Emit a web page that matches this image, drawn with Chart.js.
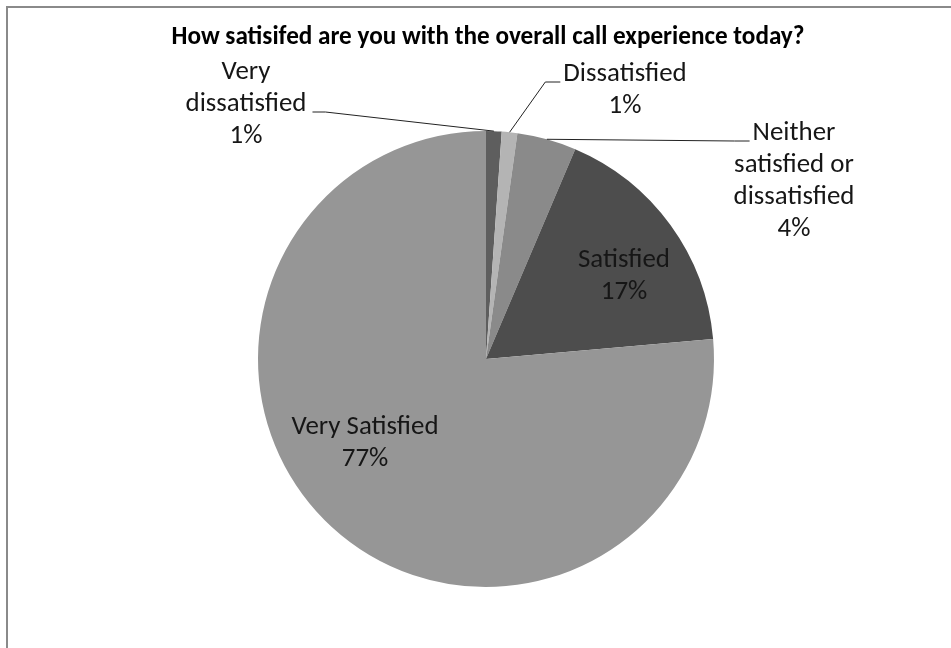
<!DOCTYPE html>
<html>
<head>
<meta charset="utf-8">
<script src="https://cdn.jsdelivr.net/npm/chart.js@4/dist/chart.umd.min.js"></script>
<style>
  html, body { margin: 0; padding: 0; background: #fff; }
  #wrap { position: absolute; left: 0; top: 0; width: 951px; height: 648px; }
</style>
</head>
<body>
<div id="wrap"><canvas id="satisfactionChart"></canvas></div>
<script>
// Chart data
const chartTitle = 'How satisifed are you with the overall call experience today?';
const categories = ['Very dissatisfied', 'Dissatisfied', 'Neither satisfied or dissatisfied', 'Satisfied', 'Very Satisfied'];
const shareValues = [1.1, 1.1, 4.2, 17.2, 76.4];
const shareLabels = ['1%', '1%', '4%', '17%', '77%'];
const labelLines = [
    ['Very', 'dissatisfied'],
    ['Dissatisfied'],
    ['Neither', 'satisfied or', 'dissatisfied'],
    ['Satisfied'],
    ['Very Satisfied']
];
const sliceColors = ['#5e5e5e', '#b4b4b4', '#8a8a8a', '#4d4d4d', '#969696'];

// Where each label block sits, relative to the pie centre (px at radius 228)
const labelPlacement = [
    { dx: -240, dy: -255, leader: 'right' },
    { dx: 139, dy: -269, leader: 'left' },
    { dx: 308, dy: -178, leader: 'left' },
    { dx: 138, dy: -83 },
    { dx: -121, dy: 84 }
];

const FONT = 'Carlito, Calibri, Lato, sans-serif';
const LINE_H = 32;

function fitSize(ctx, text, weight, target) {
    ctx.font = weight + ' 20px ' + FONT;
    return 20 * target / ctx.measureText(text).width;
}

const labelPlugin = {
    id: 'excelLabels',
    beforeDraw(chart) {
        const ctx = chart.ctx;
        ctx.save();
        ctx.strokeStyle = '#8a8a8a';
        ctx.lineWidth = 2;
        ctx.strokeRect(7, 7, chart.width + 20, chart.height + 20);
        ctx.restore();
    },
    afterDraw(chart) {
        const ctx = chart.ctx;
        const arcs = chart.getDatasetMeta(0).data;
        const cx = arcs[0].x, cy = arcs[0].y, R = arcs[0].outerRadius;
        const k = R / 228;

        ctx.save();
        // title
        const tSize = fitSize(ctx, chartTitle, 'bold', 633);
        ctx.font = 'bold ' + tSize.toFixed(1) + 'px ' + FONT;
        ctx.fillStyle = '#000';
        ctx.textAlign = 'center';
        ctx.textBaseline = 'middle';
        ctx.fillText(chartTitle, 488, 38);

        const bSize = fitSize(ctx, 'Very Satisfied', 'normal', 147);
        ctx.font = bSize.toFixed(1) + 'px ' + FONT;
        ctx.fillStyle = '#161616';

        arcs.forEach((arc, i) => {
            const p = labelPlacement[i];
            const lines = labelLines[i].concat([shareLabels[i]]);
            const bx = cx + p.dx * k;
            const top = cy + p.dy * k - (lines.length - 1) * LINE_H / 2;
            lines.forEach((t, j) => ctx.fillText(t, bx, top + j * LINE_H));

            if (!p.leader) return;
            // leader line from the slice edge to the label
            const mid = (arc.startAngle + arc.endAngle) / 2;
            const ex = cx + Math.cos(mid) * R;
            const ey = cy + Math.sin(mid) * R;
            const row = p.leader === 'right' ? 1 : 0;
            const w = ctx.measureText(labelLines[i][row]).width;
            const ly = top + row * LINE_H + 8;
            const tx = p.leader === 'right' ? bx + w / 2 + 6 : bx - w / 2 - 3;
            const elbow = p.leader === 'right' ? tx + 13 : tx - 15;
            ctx.beginPath();
            ctx.strokeStyle = '#222';
            ctx.lineWidth = 1;
            ctx.moveTo(ex, ey);
            ctx.lineTo(elbow, ly);
            ctx.lineTo(tx, ly);
            ctx.stroke();
        });
        ctx.restore();
    }
};

new Chart(document.getElementById('satisfactionChart'), {
    type: 'pie',
    data: {
        labels: categories,
        datasets: [{
            data: shareValues,
            backgroundColor: sliceColors,
            borderWidth: 0
        }]
    },
    options: {
        responsive: true,
        maintainAspectRatio: false,
        animation: false,
        layout: {
            padding: { top: 131, bottom: 61, left: 258, right: 237 }
        },
        plugins: {
            legend: { display: false },
            title: { display: false },
            tooltip: { enabled: false }
        }
    },
    plugins: [labelPlugin]
});
</script>
</body>
</html>
